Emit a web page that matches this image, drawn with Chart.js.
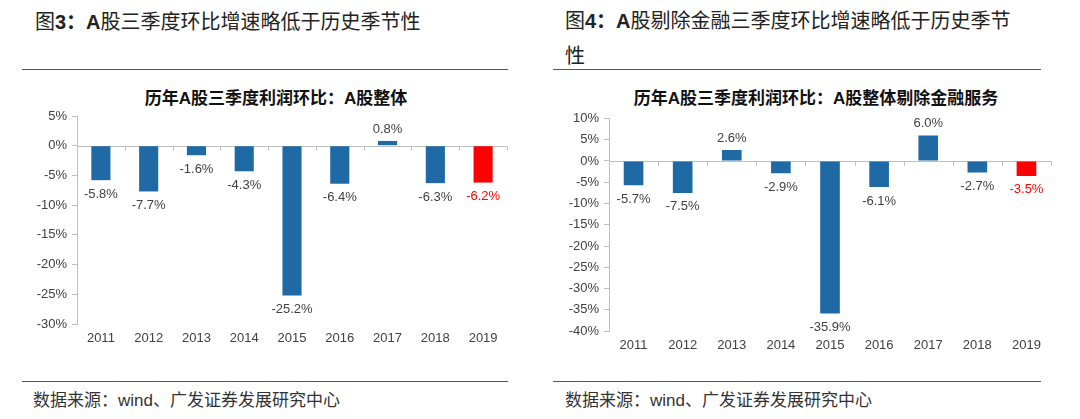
<!DOCTYPE html>
<html><head><meta charset="utf-8">
<script src="https://cdn.jsdelivr.net/npm/chart.js@4"></script>
<style>
body{margin:0;background:#fff;width:1080px;height:419px;overflow:hidden;position:relative;font-family:"Noto Sans CJK SC",sans-serif;}
.h{position:absolute;font-size:20px;color:#222;line-height:34px;white-space:nowrap}
.h b{font-family:"Liberation Sans",Arial,"Noto Sans CJK SC",sans-serif;font-weight:bold}
.rule{position:absolute;height:0;border-top:1px solid #555}
.ct{position:absolute;font-size:17px;font-weight:bold;color:#111;white-space:nowrap;line-height:24px;transform:translateX(-50%)}
.ct b{font-family:"Liberation Sans",Arial,sans-serif}
.src{position:absolute;font-size:17px;color:#333;white-space:nowrap;line-height:24px}
.src span{font-family:"Liberation Sans",Arial,sans-serif}
canvas{position:absolute}
</style></head>
<body>
<div class="h" style="left:35px;top:4px">图<b>3：A</b>股三季度环比增速略低于历史季节性</div>
<div class="h" style="left:565px;top:3px">图<b>4：A</b>股剔除金融三季度环比增速略低于历史季节<br>性</div>
<div class="rule" style="left:22px;width:486px;top:69px"></div>
<div class="rule" style="left:553px;width:488px;top:69px"></div>
<div class="ct" style="left:276px;top:85px">历年<b>A</b>股三季度利润环比：<b>A</b>股整体</div>
<div class="ct" style="left:816px;top:85px">历年<b>A</b>股三季度利润环比：<b>A</b>股整体剔除金融服务</div>
<canvas id="c1" width="540" height="260" style="left:0;top:100px"></canvas>
<canvas id="c2" width="540" height="260" style="left:540px;top:100px"></canvas>
<div class="rule" style="left:22px;width:486px;top:381px"></div>
<div class="rule" style="left:553px;width:488px;top:381px"></div>
<div class="src" style="left:33px;top:387px">数据来源：<span>wind</span>、广发证券发展研究中心</div>
<div class="src" style="left:565px;top:387px">数据来源：<span>wind</span>、广发证券发展研究中心</div>
<script>
const years = ['2011','2012','2013','2014','2015','2016','2017','2018','2019'];
const allAShares = [-5.8, -7.7, -1.6, -4.3, -25.2, -6.4, 0.8, -6.3, -6.2];
const exFinancials = [-5.7, -7.5, 2.6, -2.9, -35.9, -6.1, 6.0, -2.7, -3.5];
const leftTicks = {min: -30, max: 5, step: 5};
const rightTicks = {min: -40, max: 10, step: 5};
const highlightYear = '2019';

const BLUE = '#1f6aa5', RED = '#ff0000', LABEL = '#404040', AXIS = '#bfbfbf';
const NUMFONT = '"Liberation Sans", Arial, sans-serif';

const valueLabels = {
  id: 'valueLabels',
  afterDatasetsDraw(chart) {
    const ctx = chart.ctx, meta = chart.getDatasetMeta(0), ds = chart.data.datasets[0];
    ctx.save();
    ctx.font = '13px ' + NUMFONT;
    ctx.textAlign = 'center';
    ctx.textBaseline = 'middle';
    meta.data.forEach((bar, i) => {
      const v = ds.data[i];
      ctx.fillStyle = chart.data.labels[i] === highlightYear ? RED : LABEL;
      const y = v >= 0 ? bar.y - 12 : bar.y + 14;
      ctx.fillText(v.toFixed(1) + '%', bar.x, y);
    });
    ctx.restore();
  }
};
const zeroAxis = {
  id: 'zeroAxis',
  beforeDatasetsDraw(chart) {
    const {ctx, chartArea: a, scales: {x, y}} = chart;
    const y0 = Math.round(y.getPixelForValue(0)) + 0.5;
    const n = chart.data.labels.length;
    const w = (a.right - a.left) / n;
    ctx.save();
    ctx.strokeStyle = AXIS; ctx.lineWidth = 1;
    ctx.beginPath();
    ctx.moveTo(a.left, y0); ctx.lineTo(a.right, y0);
    for (let i = 1; i <= n; i++) {
      const xx = Math.round(x.getPixelForValue(i) - w / 2) + 0.5;
      ctx.moveTo(xx, y0); ctx.lineTo(xx, y0 + 4);
    }
    ctx.stroke();
    ctx.restore();
  }
};

function makeChart(id, values, ticks, geo) {
  new Chart(document.getElementById(id), {
    type: 'bar',
    data: {
      labels: years,
      datasets: [{
        data: values,
        backgroundColor: years.map(y => y === highlightYear ? RED : BLUE),
        categoryPercentage: 1.0,
        barPercentage: 0.4
      }]
    },
    options: {
      responsive: false,
      animation: false,
      layout: {padding: {top: geo.top, right: geo.right, left: 0, bottom: 0}},
      plugins: {legend: {display: false}, tooltip: {enabled: false}},
      scales: {
        x: {
          grid: {display: false, drawTicks: false},
          border: {display: false},
          ticks: {padding: 7, color: LABEL, font: {family: NUMFONT, size: 13}},
          afterFit: s => { s.height = geo.xh; }
        },
        y: {
          min: ticks.min, max: ticks.max,
          grid: {drawOnChartArea: false, drawTicks: true, tickLength: 5, color: AXIS},
          border: {display: true, color: AXIS},
          ticks: {stepSize: ticks.step, padding: 5, color: LABEL, font: {family: NUMFONT, size: 13},
                  callback: v => v + '%'},
          afterFit: s => { s.width = geo.yw; }
        }
      }
    },
    plugins: [zeroAxis, valueLabels]
  });
}
makeChart('c1', allAShares, leftTicks, {top: 16, right: 33, yw: 77, xh: 36});
makeChart('c2', exFinancials, rightTicks, {top: 18.5, right: 29, yw: 69, xh: 29});
</script>
</body></html>
